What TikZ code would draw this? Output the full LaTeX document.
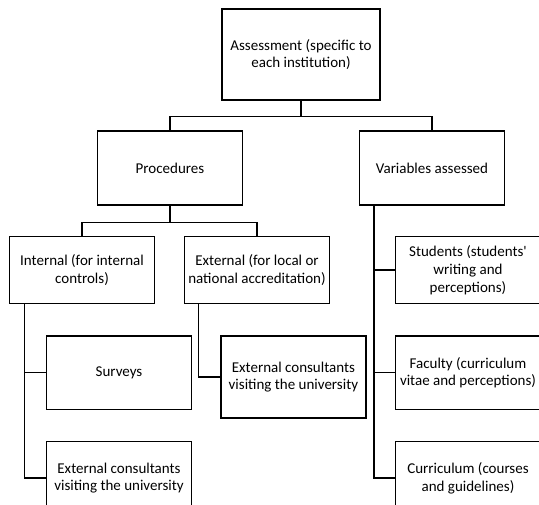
\documentclass[tikz,border=0pt]{standalone}
\usepackage{fontspec}
\setmainfont{Carlito}
\usetikzlibrary{calc}
\tikzset{box/.style={draw, line width=1.2pt, align=center, inner sep=1pt,
    minimum width=145, font=\fontsize{15}{17.8}\selectfont},
  link/.style={line width=1.2pt}}

\begin{document}
\begin{tikzpicture}[x=1pt,y=-1pt]
    \clip (0,0) rectangle (539,505);
    % top levels
    \node[box, minimum width=158, minimum height=91] (root) at (301,54.5) {Assessment (specific to\\each institution)};
    \node[box, minimum height=74] (proc) at (170,168) {Procedures};
    \node[box, minimum height=74] (vars) at (432,168) {Variables assessed};
    \node[box, minimum height=67.5] (int) at (82,270) {Internal (for internal\\controls)};
    \node[box, minimum height=67.5] (ext) at (257,270) {External (for local or\\national accreditation)};
    % leaves
    \node[box, minimum height=73.5] (surv) at (119,372.7) {Surveys};
    \node[box, minimum height=73.5] (consint) at (119,478) {External consultants\\visiting the university};
    \node[box, minimum height=82] (consext) at (293.4,377) {External consultants\\visiting the university};
    \node[box, minimum height=67.5] (stud) at (468,270) {Students (students\textquotesingle\\writing and\\perceptions)};
    \node[box, minimum height=73.5] (fac) at (468,372.7) {Faculty (curriculum\\vitae and perceptions)};
    \node[box, minimum height=73.5] (curr) at (468,478) {Curriculum (courses\\and guidelines)};

    % connectors
    \coordinate (rootbar) at ($(root.south)+(0,16)$);
    \draw[link] (root.south) -- (rootbar);
    \draw[link] (proc.north) |- (rootbar) -| (vars.north);
    \coordinate (procbar) at ($(proc.south)+(0,17)$);
    \draw[link] (proc.south) -- (procbar);
    \draw[link] (int.north) |- (procbar) -| (ext.north);
    \coordinate (intstem) at ($(int.south west)+(15.5,0)$);
    \draw[link] (intstem) |- (surv.west);
    \draw[link] (intstem) |- (consint.west);
    \coordinate (extstem) at ($(ext.south west)+(14.5,0)$);
    \draw[link] (extstem) |- (consext.west);
    \coordinate (varstem) at ($(vars.south west)+(15,0)$);
    \draw[link] (varstem) |- (stud.west);
    \draw[link] (varstem) |- (fac.west);
    \draw[link] (varstem) |- (curr.west);
\end{tikzpicture}
\end{document}
